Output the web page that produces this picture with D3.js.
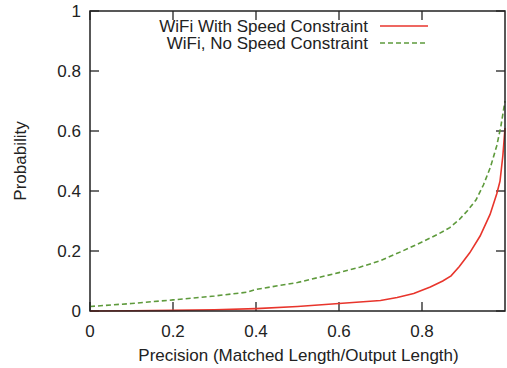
<!DOCTYPE html>
<html>
<head>
<meta charset="utf-8">
<script src="https://cdn.jsdelivr.net/npm/d3@7.9.0/dist/d3.min.js"></script>
<style>
  body { margin: 0; background: #fff; }
  svg { font-family: "Liberation Sans", Arial, sans-serif; }
</style>
</head>
<body>
<svg width="507" height="368"></svg>
<script>
// values
const precisionSpeed = [0, 0.1, 0.2, 0.3, 0.4, 0.5, 0.6, 0.7, 0.74, 0.78, 0.82, 0.85, 0.87, 0.89, 0.915, 0.94, 0.964, 0.98, 0.988, 0.995, 1.0];
const withSpeed = [0, 0.001, 0.002, 0.004, 0.008, 0.015, 0.025, 0.035, 0.045, 0.058, 0.08, 0.1, 0.117, 0.148, 0.194, 0.25, 0.322, 0.39, 0.433, 0.52, 0.61];

const precisionNoSpeed = [0, 0.1, 0.2, 0.3, 0.38, 0.4, 0.5, 0.6, 0.65, 0.7, 0.75, 0.8, 0.84, 0.867, 0.89, 0.91, 0.93, 0.948, 0.965, 0.98, 0.99, 1.0];
const noSpeed = [0.015, 0.025, 0.037, 0.05, 0.063, 0.072, 0.095, 0.128, 0.146, 0.168, 0.198, 0.23, 0.257, 0.278, 0.305, 0.335, 0.37, 0.42, 0.48, 0.55, 0.615, 0.7];

const seriesNames = ['WiFi With Speed Constraint', 'WiFi, No Speed Constraint'];
const xTicks = [0, 0.2, 0.4, 0.6, 0.8];
const yTicks = [0, 0.2, 0.4, 0.6, 0.8, 1];

const svg = d3.select('svg');
const plotLeft = 90, plotRight = 505, plotTop = 11, plotBottom = 311;

const x = d3.scaleLinear().domain([0, 1]).range([plotLeft, plotRight]);
const y = d3.scaleLinear().domain([0, 1]).range([plotBottom, plotTop]);

const tickLen = 9;
const ink = '#222';
const fontSize = 17;

// ticks, drawn inward on all four sides
const g = svg.append('g').attr('stroke', ink).attr('stroke-width', 1.3);
xTicks.forEach(t => {
    g.append('line').attr('x1', x(t)).attr('x2', x(t)).attr('y1', plotBottom).attr('y2', plotBottom - tickLen);
    g.append('line').attr('x1', x(t)).attr('x2', x(t)).attr('y1', plotTop).attr('y2', plotTop + tickLen);
});
yTicks.forEach(t => {
    g.append('line').attr('x1', plotLeft).attr('x2', plotLeft + tickLen).attr('y1', y(t)).attr('y2', y(t));
    g.append('line').attr('x1', plotRight).attr('x2', plotRight - tickLen).attr('y1', y(t)).attr('y2', y(t));
});

// tick labels
svg.append('g').selectAll('text').data(xTicks).join('text')
    .attr('x', d => x(d)).attr('y', 337)
    .attr('text-anchor', 'middle').attr('font-size', fontSize).attr('fill', ink)
    .text(d => d3.format('')(d));

svg.append('g').selectAll('text').data(yTicks).join('text')
    .attr('x', 81).attr('y', d => y(d) + 6)
    .attr('text-anchor', 'end').attr('font-size', fontSize).attr('fill', ink)
    .text(d => d3.format('')(d));

// axis titles
svg.append('text')
    .attr('x', (plotLeft + plotRight) / 2 + 1).attr('y', 361)
    .attr('text-anchor', 'middle').attr('font-size', fontSize).attr('fill', ink)
    .text('Precision (Matched Length/Output Length)');

svg.append('text')
    .attr('transform', `translate(26,${(plotTop + plotBottom) / 2}) rotate(-90)`)
    .attr('text-anchor', 'middle').attr('font-size', fontSize).attr('fill', ink)
    .text('Probability');

// curves
const line = d3.line().x(d => x(d[0])).y(d => y(d[1]));

svg.append('path')
    .datum(d3.zip(precisionNoSpeed, noSpeed))
    .attr('d', line)
    .attr('fill', 'none').attr('stroke', '#5e9a3c').attr('stroke-width', 1.6)
    .attr('stroke-dasharray', '5,3');

svg.append('path')
    .datum(d3.zip(precisionSpeed, withSpeed))
    .attr('d', line)
    .attr('fill', 'none').attr('stroke', '#e8352c').attr('stroke-width', 1.6);

// frame
svg.append('rect')
    .attr('x', plotLeft).attr('y', plotTop).attr('width', plotRight - plotLeft).attr('height', plotBottom - plotTop)
    .attr('fill', 'none').attr('stroke', ink).attr('stroke-width', 1.5);

// legend
const legendColors = ['#e8352c', '#5e9a3c'];
const legendDash = [null, '5,3'];
seriesNames.forEach((name, i) => {
    const ly = 26 + i * 17;
    svg.append('text')
        .attr('x', 368).attr('y', ly + 6)
        .attr('text-anchor', 'end').attr('font-size', fontSize).attr('fill', ink)
        .text(name);
    svg.append('line')
        .attr('x1', 380).attr('x2', 428).attr('y1', ly).attr('y2', ly)
        .attr('stroke', legendColors[i]).attr('stroke-width', 1.6)
        .attr('stroke-dasharray', legendDash[i]);
});
</script>
</body>
</html>
